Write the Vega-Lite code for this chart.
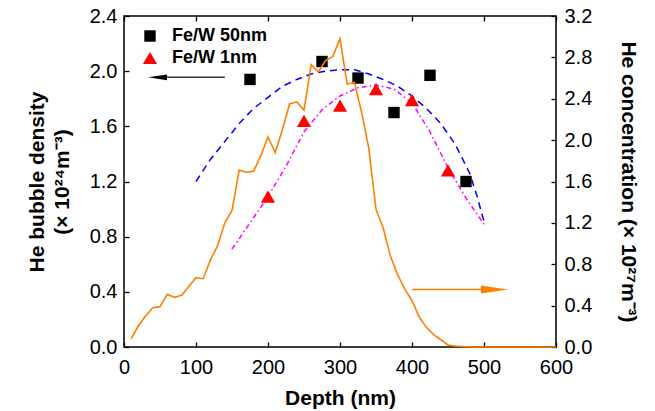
{
  "$schema": "https://vega.github.io/schema/vega-lite/v6.json",
  "width": 432,
  "height": 331,
  "autosize": {"type": "none"},
  "padding": {"left": 124, "top": 16, "right": 99, "bottom": 64},
  "background": "white",
  "config": {
    "font": "Liberation Sans",
    "view": {"stroke": "#000000", "strokeWidth": 1.5},
    "axis": {
      "grid": false,
      "domain": false,
      "tickColor": "#000000",
      "tickWidth": 1.3,
      "tickSize": -5,
      "labelColor": "#000000",
      "labelFontSize": 20,
      "labelFont": "Liberation Sans",
      "titleColor": "#000000",
      "titleFont": "Liberation Sans",
      "titleFontSize": 21,
      "titleFontWeight": "bold"
    },
    "legend": {"padding": 0}
  },
  "datasets": {
    "orange": [
      {"depth": 10, "conc": 0.08}, {"depth": 20, "conc": 0.205}, {"depth": 30, "conc": 0.30}, {"depth": 40, "conc": 0.38},
      {"depth": 50, "conc": 0.39}, {"depth": 60, "conc": 0.51}, {"depth": 70, "conc": 0.48}, {"depth": 80, "conc": 0.50},
      {"depth": 90, "conc": 0.585}, {"depth": 100, "conc": 0.67}, {"depth": 110, "conc": 0.66}, {"depth": 120, "conc": 0.84},
      {"depth": 130, "conc": 0.98}, {"depth": 140, "conc": 1.20}, {"depth": 150, "conc": 1.32}, {"depth": 160, "conc": 1.71},
      {"depth": 170, "conc": 1.69}, {"depth": 180, "conc": 1.70}, {"depth": 190, "conc": 1.85}, {"depth": 200, "conc": 2.03},
      {"depth": 210, "conc": 1.88}, {"depth": 220, "conc": 2.10}, {"depth": 230, "conc": 2.35}, {"depth": 240, "conc": 2.37},
      {"depth": 250, "conc": 2.29}, {"depth": 260, "conc": 2.73}, {"depth": 270, "conc": 2.66}, {"depth": 280, "conc": 2.77},
      {"depth": 290, "conc": 2.81}, {"depth": 300, "conc": 2.98}, {"depth": 310, "conc": 2.54}, {"depth": 320, "conc": 2.56},
      {"depth": 330, "conc": 2.27}, {"depth": 340, "conc": 1.92}, {"depth": 350, "conc": 1.33}, {"depth": 360, "conc": 1.15},
      {"depth": 370, "conc": 0.88}, {"depth": 380, "conc": 0.70}, {"depth": 390, "conc": 0.56}, {"depth": 400, "conc": 0.45},
      {"depth": 410, "conc": 0.29}, {"depth": 420, "conc": 0.19}, {"depth": 430, "conc": 0.12}, {"depth": 440, "conc": 0.07},
      {"depth": 450, "conc": 0.02}, {"depth": 460, "conc": 0.01}, {"depth": 470, "conc": 0.005}, {"depth": 480, "conc": 0},
      {"depth": 500, "conc": 0}, {"depth": 550, "conc": 0}, {"depth": 600, "conc": 0}
    ],
    "blue": [
      {"depth": 100, "dens": 1.20}, {"depth": 120, "dens": 1.36}, {"depth": 140, "dens": 1.49}, {"depth": 160, "dens": 1.62},
      {"depth": 180, "dens": 1.73}, {"depth": 200, "dens": 1.81}, {"depth": 220, "dens": 1.89}, {"depth": 240, "dens": 1.94},
      {"depth": 260, "dens": 1.98}, {"depth": 280, "dens": 2.00}, {"depth": 300, "dens": 2.01}, {"depth": 320, "dens": 2.01},
      {"depth": 340, "dens": 1.98}, {"depth": 360, "dens": 1.94}, {"depth": 380, "dens": 1.89}, {"depth": 400, "dens": 1.82},
      {"depth": 420, "dens": 1.73}, {"depth": 440, "dens": 1.62}, {"depth": 460, "dens": 1.47}, {"depth": 480, "dens": 1.26},
      {"depth": 490, "dens": 1.10}, {"depth": 500, "dens": 0.91}
    ],
    "magenta": [
      {"depth": 150, "dens": 0.71}, {"depth": 175, "dens": 0.90}, {"depth": 200, "dens": 1.09}, {"depth": 225, "dens": 1.31},
      {"depth": 250, "dens": 1.56}, {"depth": 275, "dens": 1.72}, {"depth": 300, "dens": 1.82}, {"depth": 325, "dens": 1.88},
      {"depth": 350, "dens": 1.90}, {"depth": 375, "dens": 1.87}, {"depth": 400, "dens": 1.77}, {"depth": 425, "dens": 1.56},
      {"depth": 450, "dens": 1.30}, {"depth": 475, "dens": 1.08}, {"depth": 500, "dens": 0.89}
    ],
    "points": [
      {"depth": 175, "dens": 1.94, "sample": "Fe/W 50nm"}, {"depth": 275, "dens": 2.07, "sample": "Fe/W 50nm"},
      {"depth": 325, "dens": 1.95, "sample": "Fe/W 50nm"}, {"depth": 375, "dens": 1.70, "sample": "Fe/W 50nm"},
      {"depth": 425, "dens": 1.97, "sample": "Fe/W 50nm"}, {"depth": 475, "dens": 1.20, "sample": "Fe/W 50nm"},
      {"depth": 200, "dens": 1.09, "sample": "Fe/W 1nm"}, {"depth": 250, "dens": 1.64, "sample": "Fe/W 1nm"},
      {"depth": 300, "dens": 1.75, "sample": "Fe/W 1nm"}, {"depth": 350, "dens": 1.87, "sample": "Fe/W 1nm"},
      {"depth": 400, "dens": 1.79, "sample": "Fe/W 1nm"}, {"depth": 450, "dens": 1.28, "sample": "Fe/W 1nm"}
    ],
    "arrowLeftLine": [{"depth": 58, "dens": 1.955}, {"depth": 140, "dens": 1.955}],
    "arrowLeftHead": [{"depth": 46.5, "dens": 1.955}],
    "arrowRightLine": [{"depth": 400, "conc": 0.556}, {"depth": 503, "conc": 0.556}],
    "arrowRightHead": [{"depth": 514.5, "conc": 0.556}]
  },
  "layer": [
    {
      "layer": [
        {
          "data": {"name": "blue"},
          "mark": {"type": "line", "color": "#0000FF", "strokeWidth": 1.5, "strokeDash": [7, 5]},
          "encoding": {
            "x": {
              "field": "depth", "type": "quantitative",
              "scale": {"domain": [0, 600], "nice": false},
              "axis": {
                "orient": "bottom",
                "title": "Depth (nm)",
                "values": [0, 50, 100, 150, 200, 250, 300, 350, 400, 450, 500, 550, 600],
                "labelExpr": "datum.value % 100 == 0 ? datum.label : ''",
                "labelPadding": 15,
                "labelFlush": false,
                "labelOverlap": false,
                "titlePadding": 10
              }
            },
            "y": {
              "field": "dens", "type": "quantitative",
              "scale": {"domain": [0, 2.4], "nice": false},
              "axis": {
                "orient": "left",
                "title": ["He bubble density", "(× 10²⁴m⁻³)"],
                "titleLineHeight": 25,
                "values": [0, 0.2, 0.4, 0.6, 0.8, 1.0, 1.2, 1.4, 1.6, 1.8, 2.0, 2.2, 2.4],
                "labelExpr": "round(datum.value * 10) % 4 == 0 ? format(datum.value, '.1f') : ''",
                "labelPadding": 12,
                "labelFlush": false,
                "labelOverlap": false,
                "titlePadding": 17
              }
            }
          }
        },
        {
          "data": {"name": "magenta"},
          "mark": {"type": "line", "color": "#FF00FF", "strokeWidth": 1.5, "strokeDash": [5, 3, 1.5, 3]},
          "encoding": {
            "x": {"field": "depth", "type": "quantitative"},
            "y": {"field": "dens", "type": "quantitative"}
          }
        },
        {
          "data": {"name": "points"},
          "mark": {"type": "point", "filled": true, "opacity": 1},
          "encoding": {
            "x": {"field": "depth", "type": "quantitative"},
            "y": {"field": "dens", "type": "quantitative"},
            "shape": {
              "field": "sample", "type": "nominal",
              "scale": {"domain": ["Fe/W 50nm", "Fe/W 1nm"], "range": ["square", "triangle-up"]},
              "legend": {
                "title": null,
                "orient": "none",
                "legendX": 17,
                "legendY": 11,
                "labelFontSize": 18,
                "labelFontWeight": "bold",
                "labelFont": "Liberation Sans",
                "labelColor": "#000000",
                "labelOffset": 13,
                "rowPadding": 4,
                "symbolStrokeWidth": 0
              }
            },
            "color": {
              "field": "sample", "type": "nominal",
              "scale": {"domain": ["Fe/W 50nm", "Fe/W 1nm"], "range": ["#000000", "#FF0000"]},
              "legend": {
                "title": null,
                "orient": "none",
                "legendX": 17,
                "legendY": 11,
                "labelFontSize": 18,
                "labelFontWeight": "bold",
                "labelFont": "Liberation Sans",
                "labelColor": "#000000",
                "labelOffset": 13,
                "rowPadding": 4,
                "symbolStrokeWidth": 0
              }
            },
            "size": {
              "field": "sample", "type": "nominal",
              "scale": {"domain": ["Fe/W 50nm", "Fe/W 1nm"], "range": [130, 200]},
              "legend": {
                "title": null,
                "orient": "none",
                "legendX": 17,
                "legendY": 11,
                "labelFontSize": 18,
                "labelFontWeight": "bold",
                "labelFont": "Liberation Sans",
                "labelColor": "#000000",
                "labelOffset": 13,
                "rowPadding": 4,
                "symbolStrokeWidth": 0
              }
            }
          }
        },
        {
          "data": {"name": "arrowLeftLine"},
          "mark": {"type": "line", "color": "#333333", "strokeWidth": 1.5},
          "encoding": {
            "x": {"field": "depth", "type": "quantitative"},
            "y": {"field": "dens", "type": "quantitative"}
          }
        },
        {
          "data": {"name": "arrowLeftHead"},
          "mark": {"type": "point", "filled": true, "opacity": 1, "color": "#000000", "shape": "M-1,0L1,-0.3L1,0.3Z", "size": 361},
          "encoding": {
            "x": {"field": "depth", "type": "quantitative"},
            "y": {"field": "dens", "type": "quantitative"}
          }
        }
      ]
    },
    {
      "layer": [
        {
          "data": {"name": "orange"},
          "mark": {"type": "line", "color": "#FF8000", "strokeWidth": 1.6},
          "encoding": {
            "x": {
              "field": "depth", "type": "quantitative",
              "axis": {
                "orient": "top",
                "title": null,
                "labels": false,
                "values": [0, 50, 100, 150, 200, 250, 300, 350, 400, 450, 500, 550, 600]
              }
            },
            "y": {
              "field": "conc", "type": "quantitative",
              "scale": {"domain": [0, 3.2], "nice": false},
              "axis": {
                "orient": "right",
                "title": "He concentration (× 10²⁷m⁻³)",
                "values": [0, 0.2, 0.4, 0.6, 0.8, 1.0, 1.2, 1.4, 1.6, 1.8, 2.0, 2.2, 2.4, 2.6, 2.8, 3.0, 3.2],
                "labelExpr": "round(datum.value * 10) % 4 == 0 ? format(datum.value, '.1f') : ''",
                "labelPadding": 13,
                "labelFlush": false,
                "labelOverlap": false,
                "titlePadding": 26
              }
            }
          }
        },
        {
          "data": {"name": "arrowRightLine"},
          "mark": {"type": "line", "color": "#FF8000", "strokeWidth": 1.5},
          "encoding": {
            "x": {"field": "depth", "type": "quantitative"},
            "y": {"field": "conc", "type": "quantitative"}
          }
        },
        {
          "data": {"name": "arrowRightHead"},
          "mark": {"type": "point", "filled": true, "opacity": 1, "color": "#FF8000", "shape": "M1,0L-1,-0.3L-1,0.3Z", "size": 729},
          "encoding": {
            "x": {"field": "depth", "type": "quantitative"},
            "y": {"field": "conc", "type": "quantitative"}
          }
        }
      ]
    }
  ],
  "resolve": {"scale": {"y": "independent"}, "axis": {"x": "independent", "y": "independent"}}
}
